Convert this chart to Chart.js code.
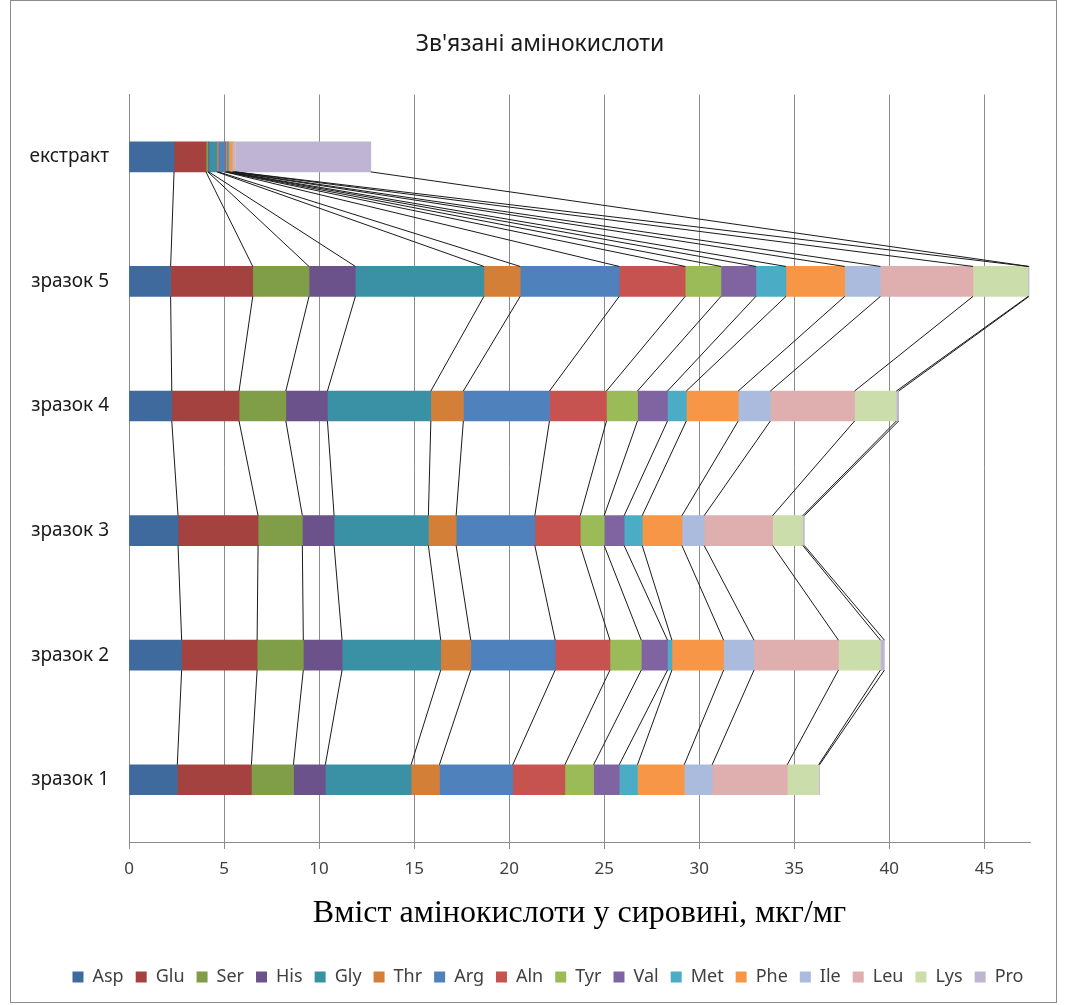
<!DOCTYPE html>
<html>
<head>
<meta charset="utf-8">
<title>Зв'язані амінокислоти</title>
<script src="https://cdn.jsdelivr.net/npm/chart.js@4/dist/chart.umd.min.js"></script>
<style>
  html, body { margin: 0; padding: 0; background: #fff; }
  canvas { display: block; }
</style>
</head>
<body>
<canvas id="chart" width="1065" height="1005"></canvas>
<script>
// samples, top to bottom
const categories = ['екстракт', 'зразок 5', 'зразок 4', 'зразок 3', 'зразок 2', 'зразок 1'];
const xTicks = [0, 5, 10, 15, 20, 25, 30, 35, 40, 45];

// amino acid content, мкг/мг, in the order of categories
const asp = [2.37, 2.19, 2.25, 2.58, 2.77, 2.54];
const glu = [1.68, 4.32, 3.54, 4.21, 3.97, 3.90];
const ser = [0.10, 2.96, 2.46, 2.33, 2.43, 2.21];
const his = [0.05, 2.44, 2.19, 1.67, 2.04, 1.68];
const gly = [0.42, 6.76, 5.44, 4.96, 5.19, 4.51];
const thr = [0.08, 1.91, 1.71, 1.46, 1.58, 1.49];
const arg = [0.35, 5.21, 4.53, 4.14, 4.44, 3.86];
const aln = [0.05, 3.47, 3.00, 2.39, 2.88, 2.74];
const tyr = [0.05, 1.88, 1.63, 1.26, 1.65, 1.51];
const val = [0.05, 1.84, 1.58, 1.05, 1.38, 1.35];
const met = [0.05, 1.58, 0.99, 0.95, 0.23, 0.96];
const phe = [0.18, 3.09, 2.73, 2.09, 2.72, 2.46];
const ile = [0.05, 1.88, 1.69, 1.17, 1.60, 1.47];
const leu = [0.08, 4.87, 4.43, 3.60, 4.44, 3.95];
const lys = [0.02, 2.90, 2.20, 1.59, 2.21, 1.65];
const pro = [7.14, 0.05, 0.12, 0.08, 0.21, 0.05];

const acids = ['Asp', 'Glu', 'Ser', 'His', 'Gly', 'Thr', 'Arg', 'Aln', 'Tyr', 'Val', 'Met', 'Phe', 'Ile', 'Leu', 'Lys', 'Pro'];
const values = [asp, glu, ser, his, gly, thr, arg, aln, tyr, val, met, phe, ile, leu, lys, pro];
const colors = [
    '#3F6A9E', '#A3423E', '#809E47', '#6B528A', '#3A91A6', '#D47F37',
    '#4F81BD', '#C65350', '#9BBB59', '#8064A2', '#4BACC6', '#F79646',
    '#AABBDD', '#DEAFAE', '#CCDDAC', '#BFB4D3'
];

const FONT = "'Noto Sans', 'Open Sans', sans-serif";

// lines joining the end of each segment between neighbouring bars
const seriesLines = {
    id: 'seriesLines',
    afterDatasetsDraw(chart) {
        const ctx = chart.ctx;
        ctx.save();
        ctx.strokeStyle = '#1a1a1a';
        ctx.lineWidth = 1;
        chart.data.datasets.forEach((ds, i) => {
            const bars = chart.getDatasetMeta(i).data;
            for (let j = 0; j < bars.length - 1; j++) {
                const a = bars[j], b = bars[j + 1];
                ctx.beginPath();
                ctx.moveTo(a.x, a.y + a.height / 2);
                ctx.lineTo(b.x, b.y - b.height / 2);
                ctx.stroke();
            }
        });
        ctx.restore();
    }
};

// white background and the thin frame round the chart
const frame = {
    id: 'frame',
    beforeDraw(chart) {
        const ctx = chart.ctx;
        ctx.save();
        ctx.fillStyle = '#fff';
        ctx.fillRect(0, 0, chart.width, chart.height);
        ctx.strokeStyle = '#8c8c8c';
        ctx.lineWidth = 1;
        ctx.strokeRect(10.5, 0.5, 1046, 1002);
        ctx.restore();
    }
};

// nudge title and legend a little to the right of the plot's centre
const shiftBoxes = {
    id: 'shiftBoxes',
    afterLayout(chart) {
        const move = (box, dx) => { if (box) { box.left += dx; box.right += dx; } };
        move(chart.titleBlock, 19);
        move(chart.legend, 27);
    }
};

new Chart(document.getElementById('chart'), {
    type: 'bar',
    data: {
        labels: categories,
        datasets: acids.map((name, i) => ({
            label: name,
            data: values[i],
            backgroundColor: colors[i],
            borderWidth: 0
        }))
    },
    options: {
        indexAxis: 'y',
        responsive: false,
        animation: false,
        datasets: { bar: { barThickness: 30 } },
        layout: { padding: { left: 12, right: 35, top: 0, bottom: 9 } },
        plugins: {
            tooltip: { enabled: false },
            title: {
                display: true,
                text: "Зв'язані амінокислоти",
                color: '#1a1a1a',
                font: { family: FONT, size: 23, weight: 'normal' },
                padding: { top: 31, bottom: 36 }
            },
            legend: {
                position: 'bottom',
                labels: {
                    color: '#404040',
                    font: { family: FONT, size: 18 },
                    boxWidth: 11,
                    boxHeight: 11,
                    padding: 12
                }
            }
        },
        scales: {
            x: {
                stacked: true,
                min: 0,
                max: 47.4,
                afterBuildTicks(scale) {
                    scale.ticks = xTicks.map(v => ({ value: v }));
                },
                afterFit(scale) { scale.height = 114; },
                grid: {
                    color: '#8c8c8c',
                    lineWidth: 1,
                    drawTicks: true,
                    tickLength: 7
                },
                border: { display: true, color: '#8c8c8c' },
                ticks: {
                    color: '#404040',
                    font: { family: FONT, size: 17 },
                    padding: 10,
                    maxRotation: 0
                },
                title: {
                    display: true,
                    text: 'Вміст амінокислоти у сировині, мкг/мг',
                    color: '#000',
                    font: { family: "'Liberation Serif', 'DejaVu Serif', serif", size: 32 },
                    padding: { top: 0, bottom: 23 }
                }
            },
            y: {
                stacked: true,
                afterFit(scale) { scale.width = 117; },
                grid: { display: false, drawTicks: false },
                border: { display: true, color: '#8c8c8c' },
                ticks: {
                    color: '#1a1a1a',
                    font: { family: FONT, size: 19 },
                    padding: 20
                }
            }
        }
    },
    plugins: [frame, seriesLines, shiftBoxes]
});
</script>
</body>
</html>
